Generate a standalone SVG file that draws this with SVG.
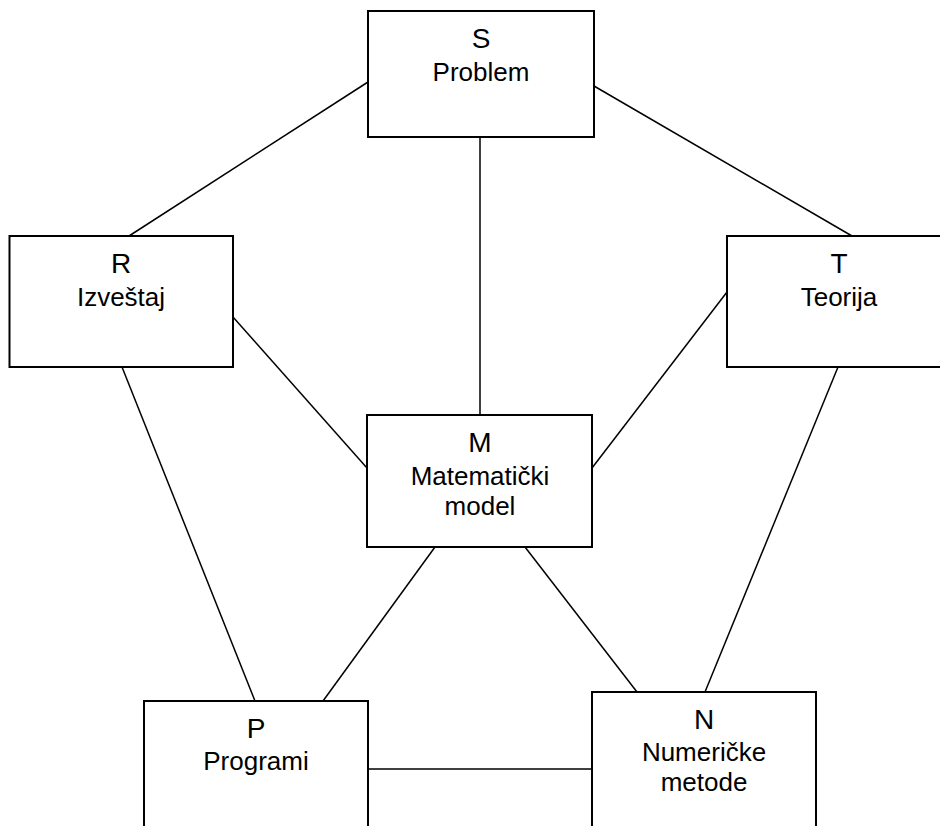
<svg xmlns="http://www.w3.org/2000/svg" width="940" height="826" viewBox="0 0 940 826">
<style>
.box{fill:#fff;stroke:#000;stroke-width:2}
.ln{stroke:#000;stroke-width:1.5;fill:none}
text{font-family:"Liberation Sans",Arial,sans-serif;fill:#000;text-anchor:middle}
.k{font-size:28px}
.n{font-size:26px}
</style>
<rect width="940" height="826" fill="#fff"/>
<g id="connectors">
<line class="ln" x1="368" y1="82" x2="129" y2="236"/>
<line class="ln" x1="594" y1="86" x2="852" y2="236"/>
<line class="ln" x1="480" y1="137" x2="480" y2="420"/>
<line class="ln" x1="233" y1="317" x2="367" y2="468"/>
<line class="ln" x1="727" y1="292" x2="592" y2="468"/>
<line class="ln" x1="122" y1="367" x2="255" y2="701"/>
<line class="ln" x1="435" y1="547" x2="323" y2="701"/>
<line class="ln" x1="525" y1="547" x2="637" y2="692"/>
<line class="ln" x1="838" y1="367" x2="705" y2="692"/>
<line class="ln" x1="368" y1="769" x2="592" y2="769"/>
</g>
<g id="S">
<rect class="box" x="368" y="11" width="226" height="126"/>
<text class="k" x="481" y="48">S</text>
<text class="n" x="481" y="81">Problem</text>
</g>
<g id="R">
<rect class="box" x="9.5" y="236" width="223.5" height="131"/>
<text class="k" x="121" y="273">R</text>
<text class="n" x="121" y="306">Izveštaj</text>
</g>
<g id="T">
<rect class="box" x="727" y="236" width="226" height="131"/>
<text class="k" x="839" y="273">T</text>
<text class="n" x="839" y="306">Teorija</text>
</g>
<g id="M">
<rect class="box" x="367" y="415" width="225" height="132"/>
<text class="k" x="480" y="452">M</text>
<text class="n" x="480" y="485">Matematički</text>
<text class="n" x="480" y="515">model</text>
</g>
<g id="P">
<rect class="box" x="144" y="701" width="224" height="140"/>
<text class="k" x="256" y="738">P</text>
<text class="n" x="256" y="770">Programi</text>
</g>
<g id="N">
<rect class="box" x="592" y="692" width="224" height="150"/>
<text class="k" x="704" y="729">N</text>
<text class="n" x="704" y="761">Numeričke</text>
<text class="n" x="704" y="791">metode</text>
</g>
</svg>
